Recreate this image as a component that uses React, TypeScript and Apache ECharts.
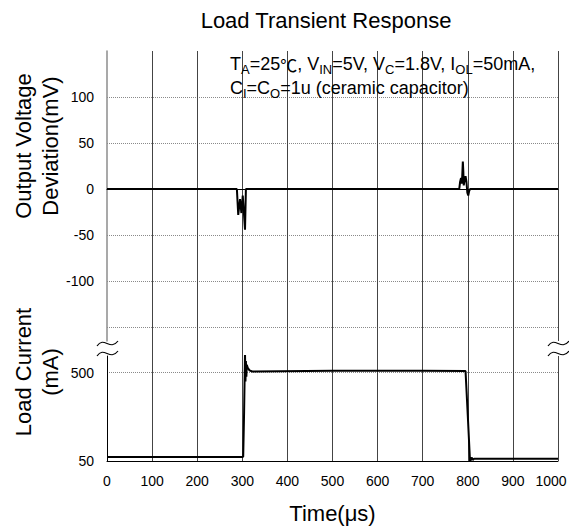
import React, { useEffect, useRef } from "react";
import * as echarts from "echarts";

// ---- data ----
// Output voltage deviation (mV) vs time (µs)
const voltageTimes = [0, 288, 291, 295, 298, 301, 306, 308, 310, 781, 783, 785, 787, 789, 790, 791, 793, 795, 797, 799, 801, 803, 805, 1000];
const voltageMv = [0, 0, -28, -11, -26, -7, -44, 0, 0, 0, 8, 12, 6, 30, 20, 4, 10, 14, 8, -4, -7, -2, 0, 0];

// Load current (mA) vs time (µs)
const currentTimes = [2, 300, 302, 304, 306, 307, 308, 309, 310, 312, 316, 322, 500, 700, 795, 800, 805, 807, 809, 811, 814, 1000];
const currentMa = [70, 70, 72, 300, 600, 455, 560, 480, 540, 525, 512, 506, 510, 510, 508, 280, 45, 58, 68, 55, 62, 62];

// axis ticks
const voltageLabelTicks = [-100, -50, 0, 50, 100];
const voltageGridTicks = [-150, -100, -50, 0, 50, 100];
const currentLabelTicks = [50, 500];
const currentGridTicks = [500];

const FONT = '"Liberation Sans", Arial, Helvetica, sans-serif';
const CJK = '"Noto Sans CJK SC", "Noto Sans CJK JP", sans-serif';

export default function App() {
  const ref = useRef<HTMLDivElement>(null);

  useEffect(() => {
    if (!ref.current) return;
    const chart = echarts.init(ref.current, undefined, { renderer: "svg" });

    const voltageData = voltageTimes.map((t, i) => [t, voltageMv[i]]);
    const currentData = currentTimes.map((t, i) => [t, currentMa[i]]);

    const vGrid = { color: "#444", width: 1 };
    const hGrid = { color: "#8a8a8a", width: 1, type: [1, 1] as any };

    const tilde = (x: number, y: number) => ({
      type: "bezierCurve",
      shape: {
        x1: x - 10, y1: y + 2.5,
        cpx1: x - 3, cpy1: y - 8,
        cpx2: x + 3, cpy2: y + 8,
        x2: x + 11, y2: y - 2.5,
      },
      style: { stroke: "#000", lineWidth: 1.2, fill: null },
      z: 10,
    });

    const gridBase = { left: 107, right: 11, outerBoundsMode: "none", containLabel: false };

    const option: any = {
      animation: false,
      textStyle: { fontFamily: FONT },
      grid: [
        { ...gridBase, top: 51, height: 290 },
        { ...gridBase, top: 341, height: 15 },
        { ...gridBase, top: 356, height: 105 },
      ],
      xAxis: [
        {
          gridIndex: 0, type: "value", min: 0, max: 1000, interval: 100, position: "top",
          axisLine: { show: true, lineStyle: { color: "#000", width: 1 } },
          axisTick: { show: false }, axisLabel: { show: false },
          splitLine: { show: true, showMinLine: false, lineStyle: vGrid },
        },
        {
          gridIndex: 1, type: "value", min: 0, max: 1000, interval: 100,
          axisLine: { show: false }, axisTick: { show: false }, axisLabel: { show: false },
          splitLine: { show: true, showMinLine: false, showMaxLine: false, lineStyle: vGrid },
        },
        {
          gridIndex: 2, type: "value", min: 0, max: 1000, interval: 100, position: "bottom",
          axisLine: { show: true, onZero: false, lineStyle: { color: "#000", width: 1 } },
          axisTick: { show: false },
          axisLabel: {
            fontSize: 14, color: "#000", margin: 13, fontFamily: FONT,
            formatter: (v: number) => (v === 1000 ? "{r|1000}" : String(v)),
            rich: { r: { fontSize: 14, fontFamily: FONT, color: "#000", padding: [0, 14, 0, 0] } },
          },
          splitLine: { show: true, showMinLine: false, lineStyle: vGrid },
          name: "Time(μs)", nameLocation: "middle", nameGap: 41,
          nameTextStyle: { fontSize: 22, color: "#000", fontFamily: FONT },
        },
      ],
      yAxis: [
        {
          gridIndex: 0, type: "value", min: -165, max: 150,
          axisLine: { show: true, onZero: false, lineStyle: { color: "#8c8c8c", width: 1.5 } },
          axisTick: { show: false, customValues: voltageGridTicks },
          axisLabel: { customValues: voltageLabelTicks, fontSize: 14, color: "#000", margin: 13, fontFamily: FONT },
          splitLine: { show: true, lineStyle: hGrid },
        },
        { gridIndex: 1, type: "value", min: 0, max: 1, show: false, splitLine: { show: false } },
        {
          gridIndex: 2, type: "value", min: 50, max: 585,
          axisLine: { show: true, onZero: false, lineStyle: { color: "#000", width: 1 } },
          axisTick: { show: false, customValues: currentGridTicks },
          axisLabel: { customValues: currentLabelTicks, fontSize: 14, color: "#000", margin: 13, fontFamily: FONT },
          splitLine: { show: true, lineStyle: hGrid },
        },
      ],
      series: [
        {
          type: "line", xAxisIndex: 0, yAxisIndex: 0, data: voltageData,
          showSymbol: false, symbol: "none",
          lineStyle: { color: "#000", width: 2 }, z: 5,
        },
        {
          type: "line", xAxisIndex: 2, yAxisIndex: 2, data: currentData,
          showSymbol: false, symbol: "none",
          lineStyle: { color: "#000", width: 2 }, z: 5,
        },
      ],
      graphic: [
        {
          type: "text", x: 326, y: 9,
          style: {
            text: "Load Transient Response", fontSize: 22, fontFamily: FONT, fill: "#000",
            textAlign: "center", align: "center", textVerticalAlign: "top", verticalAlign: "top",
          },
        },
        {
          type: "text", x: 37, y: 146, rotation: Math.PI / 2,
          style: {
            text: "Output Voltage\nDeviation(mV)", fontSize: 22, fontFamily: FONT, fill: "#000", lineHeight: 27,
            textAlign: "center", align: "center", textVerticalAlign: "middle", verticalAlign: "middle",
          },
        },
        {
          type: "text", x: 37, y: 372, rotation: Math.PI / 2,
          style: {
            text: "Load Current\n(mA)", fontSize: 22, fontFamily: FONT, fill: "#000", lineHeight: 27,
            textAlign: "center", align: "center", textVerticalAlign: "middle", verticalAlign: "middle",
          },
        },
        {
          type: "text", x: 230, y: 52,
          style: {
            text:
              "{n|T}{s|A}{n|=25}{c|℃}{n|, V}{s|IN}{n|=5V, V}{s|C}{n|=1.8V, I}{s|OL}{n|=50mA,}\n" +
              "{n|C}{s|I}{n|=C}{s|O}{n|=1u (ceramic capacitor)}",
            fontSize: 18, fontFamily: FONT, fill: "#000",
            textAlign: "left", align: "left", textVerticalAlign: "top", verticalAlign: "top",
            rich: {
              n: { fontSize: 18, lineHeight: 24, fontFamily: FONT, fill: "#000", color: "#000" },
              c: { fontSize: 17, lineHeight: 24, fontFamily: CJK, fill: "#000", color: "#000" },
              s: { fontSize: 13, lineHeight: 16, verticalAlign: "bottom", fontFamily: FONT, fill: "#000", color: "#000" },
            },
          },
          z: 10,
        },
        // axis-break marks
        tilde(107, 343.5),
        tilde(107, 353.5),
        tilde(558, 343.5),
        tilde(558, 353.5),
      ],
    };

    chart.setOption(option);
    return () => chart.dispose();
  }, []);

  return (
    <div
      ref={ref}
      style={{ position: "fixed", left: 0, top: 0, width: 569, height: 526, background: "#fff" }}
    />
  );
}
